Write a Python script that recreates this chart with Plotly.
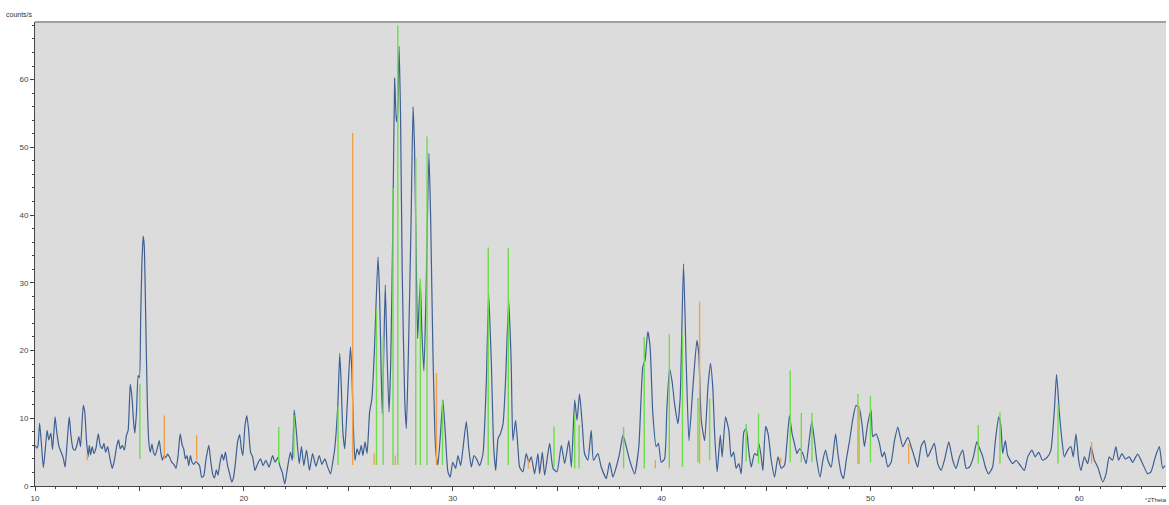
import plotly.graph_objects as go

# ---------------- data ----------------
two_theta = [
    10.00, 10.08, 10.14, 10.22, 10.30, 10.40, 10.48, 10.58, 10.66, 10.76, 10.84, 10.96, 11.04, 11.15, 11.25,
    11.35, 11.44, 11.54, 11.64, 11.72, 11.82, 11.92, 12.02, 12.10, 12.18, 12.31, 12.38, 12.46, 12.54, 12.60,
    12.66, 12.74, 12.82, 12.92, 13.03, 13.12, 13.22, 13.30, 13.38, 13.48, 13.58, 13.70, 13.80, 13.92, 14.00,
    14.08, 14.18, 14.28, 14.38, 14.46, 14.56, 14.64, 14.72, 14.78, 14.86, 14.94, 15.00, 15.06, 15.12, 15.18,
    15.23, 15.30, 15.38, 15.45, 15.52, 15.60, 15.67, 15.75, 15.85, 15.95, 16.02, 16.10, 16.18, 16.26, 16.35,
    16.45, 16.55, 16.65, 16.75, 16.85, 16.95, 17.05, 17.12, 17.20, 17.28, 17.36, 17.44, 17.52, 17.60, 17.70,
    17.78, 17.88, 17.98, 18.08, 18.18, 18.32, 18.42, 18.52, 18.60, 18.68, 18.76, 18.86, 18.95, 19.03, 19.12,
    19.22, 19.32, 19.42, 19.50, 19.60, 19.70, 19.80, 19.88, 19.95, 20.05, 20.14, 20.22, 20.32, 20.42, 20.53,
    20.66, 20.80, 20.92, 21.05, 21.21, 21.37, 21.50, 21.62, 21.72, 21.84, 21.96, 22.08, 22.23, 22.32, 22.41,
    22.50, 22.65, 22.76, 22.87, 23.00, 23.14, 23.29, 23.45, 23.61, 23.74, 23.88, 24.00, 24.15, 24.28, 24.35,
    24.42, 24.50, 24.59, 24.66, 24.74, 24.83, 24.95, 25.10, 25.17, 25.24, 25.32, 25.42, 25.52, 25.62, 25.70,
    25.80, 25.90, 26.02, 26.13, 26.25, 26.42, 26.50, 26.58, 26.63, 26.70, 26.77, 26.85, 26.95, 27.03, 27.14,
    27.22, 27.30, 27.36, 27.43, 27.50, 27.58, 27.70, 27.78, 27.88, 28.00, 28.10, 28.17, 28.26, 28.32, 28.38,
    28.45, 28.52, 28.62, 28.72, 28.86, 28.94, 29.05, 29.18, 29.29, 29.42, 29.53, 29.64, 29.77, 29.88, 30.00,
    30.14, 30.25, 30.38, 30.49, 30.65, 30.77, 30.89, 31.02, 31.14, 31.29, 31.45, 31.61, 31.72, 31.85, 31.96,
    32.06, 32.17, 32.28, 32.41, 32.53, 32.68, 32.80, 32.88, 33.01, 33.12, 33.20, 33.36, 33.52, 33.65, 33.76,
    33.92, 34.08, 34.16, 34.29, 34.40, 34.64, 34.80, 34.99, 35.20, 35.36, 35.56, 35.68, 35.84, 35.95, 36.07,
    36.20, 36.31, 36.47, 36.63, 36.74, 36.95, 37.11, 37.35, 37.51, 37.67, 37.83, 37.99, 38.15, 38.31, 38.47,
    38.71, 38.91, 39.10, 39.21, 39.34, 39.45, 39.58, 39.74, 39.85, 39.98, 40.14, 40.25, 40.38, 40.50, 40.62,
    40.78, 40.89, 41.05, 41.18, 41.31, 41.50, 41.69, 41.78, 41.90, 42.06, 42.22, 42.34, 42.45, 42.54, 42.66,
    42.81, 42.90, 43.06, 43.22, 43.33, 43.45, 43.57, 43.70, 43.81, 43.94, 44.05, 44.18, 44.29, 44.45, 44.58,
    44.66, 44.77, 44.85, 44.98, 45.10, 45.25, 45.41, 45.57, 45.73, 45.89, 46.00, 46.12, 46.25, 46.36, 46.48,
    46.60, 46.76, 46.92, 47.05, 47.19, 47.32, 47.43, 47.59, 47.72, 47.85, 47.96, 48.12, 48.33, 48.44, 48.60,
    48.71, 48.84, 49.00, 49.16, 49.31, 49.47, 49.60, 49.71, 49.87, 50.03, 50.11, 50.27, 50.43, 50.56, 50.67,
    50.83, 50.99, 51.15, 51.31, 51.55, 51.79, 51.95, 52.10, 52.26, 52.42, 52.58, 52.74, 52.90, 53.06, 53.22,
    53.38, 53.54, 53.75, 53.94, 54.10, 54.26, 54.42, 54.58, 54.74, 54.93, 55.09, 55.22, 55.38, 55.50, 55.66,
    55.85, 55.98, 56.14, 56.25, 56.33, 56.46, 56.57, 56.81, 56.97, 57.16, 57.37, 57.53, 57.73, 57.89, 58.05,
    58.24, 58.48, 58.64, 58.80, 58.91, 59.04, 59.17, 59.28, 59.44, 59.60, 59.71, 59.84, 59.97, 60.08, 60.24,
    60.40, 60.56, 60.72, 60.88, 61.12, 61.28, 61.43, 61.59, 61.75, 61.88, 62.04, 62.20, 62.39, 62.55, 62.79,
    63.03, 63.27, 63.43, 63.64, 63.83, 63.99, 64.10,
]
counts = [
    6.0, 5.6, 5.9, 9.3, 6.5, 2.7, 5.0, 8.2, 6.8, 7.8, 5.4, 10.2, 8.0, 5.8, 5.0,
    4.2, 2.8, 6.5, 10.2, 7.5, 5.5, 5.3, 6.2, 7.3, 5.8, 11.9, 11.0, 7.0, 4.3, 6.0,
    4.6, 5.8, 4.8, 5.6, 7.7, 6.0, 5.5, 6.3, 5.0, 5.8, 4.2, 2.6, 3.8, 6.0, 6.8,
    5.5, 6.0, 5.3, 7.5, 8.2, 15.0, 13.2, 9.5, 7.8, 11.0, 16.3, 16.0, 25.0, 33.0, 36.9,
    35.5, 25.0, 12.0, 6.5, 5.0, 6.2, 5.0, 4.5, 5.5, 6.7, 5.0, 3.8, 4.5, 4.2, 4.7,
    4.2, 3.5, 3.2, 2.6, 4.5, 7.7, 6.0, 5.5, 4.0, 4.5, 3.0, 4.5, 3.5, 3.2, 3.6,
    3.4, 3.0, 1.3, 1.5, 3.8, 6.0, 3.5, 1.6, 1.2, 2.4, 1.6, 3.5, 4.7, 3.8, 5.0,
    3.0, 1.8, 0.6, 1.2, 3.5, 6.5, 7.6, 5.5, 4.5, 8.8, 10.4, 8.5, 5.0, 4.3, 2.3,
    3.3, 4.0, 3.0, 3.8, 2.8, 4.5, 3.5, 4.2, 3.0, 2.0, 0.3, 2.5, 5.0, 3.8, 11.2,
    8.5, 3.3, 5.8, 3.0, 5.3, 2.3, 4.8, 2.9, 4.5, 3.2, 4.0, 2.9, 1.8, 4.0, 5.5,
    8.0, 12.0, 19.6, 15.0, 8.0, 5.5, 12.0, 20.5, 17.0, 9.0, 3.8, 5.5, 4.6, 6.0, 4.5,
    6.5, 4.8, 10.9, 12.9, 20.0, 33.8, 28.0, 16.0, 10.7, 20.0, 29.7, 20.0, 10.9, 18.0, 40.0,
    60.2, 53.8, 55.0, 64.9, 55.0, 32.0, 12.9, 8.5, 20.0, 38.0, 56.0, 50.0, 32.0, 21.8, 26.0,
    30.1, 23.0, 17.0, 28.0, 49.1, 40.0, 20.0, 5.5, 3.1, 8.0, 12.7, 8.0, 2.1, 1.3, 3.5,
    2.6, 4.5, 3.0, 5.5, 9.5, 5.5, 2.8, 4.5, 4.0, 3.0, 4.8, 15.6, 28.4, 18.0, 5.8,
    2.3, 7.0, 7.7, 9.2, 15.6, 27.4, 18.0, 6.7, 9.7, 5.8, 2.8, 2.1, 4.8, 3.5, 4.3,
    1.8, 4.8, 1.8, 5.0, 1.6, 6.3, 2.6, 2.1, 6.0, 3.3, 6.7, 2.8, 12.7, 9.7, 13.6,
    9.2, 4.8, 3.8, 8.2, 3.8, 4.8, 2.8, 1.1, 3.5, 1.3, 2.8, 4.8, 7.5, 5.8, 3.8,
    1.8, 5.8, 17.6, 18.6, 22.8, 20.5, 10.7, 5.8, 6.3, 3.5, 4.0, 11.2, 17.3, 15.5, 12.2,
    9.2, 13.0, 32.8, 18.0, 6.7, 14.6, 21.5, 19.5, 9.7, 6.7, 14.6, 18.1, 14.6, 7.7, 2.1,
    7.5, 4.3, 10.2, 8.2, 4.3, 5.0, 2.6, 3.3, 1.8, 8.0, 8.5, 5.0, 2.8, 4.8, 4.5,
    6.3, 4.3, 2.3, 8.8, 7.7, 3.8, 1.3, 4.3, 2.6, 3.1, 6.3, 10.4, 7.7, 6.3, 4.8,
    5.5, 4.8, 3.3, 6.3, 9.5, 6.7, 3.8, 1.3, 3.8, 5.3, 3.8, 2.8, 7.7, 4.8, 1.8,
    1.1, 3.8, 6.7, 10.0, 11.9, 11.4, 9.0, 5.8, 9.2, 11.2, 7.3, 7.7, 6.3, 4.3, 5.0,
    2.8, 3.5, 6.7, 8.7, 5.8, 7.2, 5.8, 4.3, 2.8, 5.8, 6.7, 4.3, 5.3, 6.3, 3.3,
    2.3, 3.8, 6.5, 3.8, 2.6, 4.3, 5.3, 2.6, 2.8, 4.3, 6.5, 5.6, 4.3, 2.8, 1.8,
    2.8, 6.7, 10.2, 8.7, 4.8, 6.7, 4.5, 3.3, 3.8, 3.1, 2.3, 4.3, 5.3, 4.3, 5.0,
    3.8, 4.3, 5.3, 11.0, 16.5, 11.0, 6.7, 4.3, 5.3, 5.8, 4.3, 7.7, 3.8, 2.3, 4.3,
    3.3, 5.8, 3.8, 2.8, 0.6, 1.8, 4.3, 3.8, 5.8, 3.8, 4.8, 4.0, 4.3, 3.5, 4.7,
    3.3, 1.8, 2.1, 4.3, 5.8, 2.6, 3.0,
]

green_pos = [15.02, 21.67, 22.40, 24.51, 26.35, 26.67, 27.14, 27.37, 28.23, 28.45, 28.77, 29.51,
             31.70, 32.66, 34.85, 35.84, 36.05, 38.18, 39.17, 40.37, 41.00, 41.74, 42.30, 44.05,
             44.64, 46.16, 46.69, 47.20, 49.40, 50.00, 55.16, 56.20, 58.98]
green_top = [15.1, 8.7, 10.5, 11.7, 26.0, 22.0, 44.0, 68.0, 48.4, 30.6, 51.6, 12.5,
             35.2, 35.1, 8.8, 10.7, 9.0, 8.7, 22.0, 22.4, 22.6, 13.0, 12.9, 9.2,
             10.7, 17.1, 10.8, 10.8, 13.6, 13.3, 9.0, 10.9, 12.0]
green_base = [4.0, 3.4, 4.1, 3.1, 3.1, 3.1, 3.1, 3.1, 3.1, 3.1, 3.1, 3.1,
              3.1, 3.1, 2.8, 2.6, 2.6, 2.6, 2.6, 2.6, 2.8, 3.5, 3.8, 3.6,
              3.3, 3.5, 3.5, 3.5, 3.3, 3.5, 3.3, 3.3, 3.3]

orange_pos = [12.50, 16.19, 17.74, 25.21, 26.24, 27.25, 29.22, 33.62, 39.70, 41.82, 45.70, 49.46, 51.83, 60.59]
orange_top = [4.8, 10.4, 7.5, 52.1, 4.8, 4.5, 16.7, 3.8, 3.8, 27.2, 4.2, 11.8, 6.3, 6.5]
orange_base = [3.8, 4.0, 3.8, 3.1, 3.1, 3.1, 3.1, 2.6, 2.6, 3.3, 3.5, 3.3, 3.3, 3.3]

x_tickvals = [10, 15, 20, 25, 30, 35, 40, 45, 50, 55, 60]
x_ticktext = ["10", "", "20", "", "30", "", "40", "", "50", "", "60"]
y_tickvals = [0, 10, 20, 30, 40, 50, 60]


def sticks(pos, base, top):
    xs, ys = [], []
    for p, b, t in zip(pos, base, top):
        xs += [p, p, None]
        ys += [b, t, None]
    return xs, ys


fig = go.Figure()
fig.add_trace(go.Scatter(x=two_theta, y=counts, mode="lines",
                         line=dict(color="#3e5f94", width=1.2, shape="spline", smoothing=0.5),
                         hoverinfo="skip"))
gx, gy = sticks(green_pos, green_base, green_top)
fig.add_trace(go.Scatter(x=gx, y=gy, mode="lines", line=dict(color="#6fdc4c", width=1.4),
                         hoverinfo="skip"))
ox, oy = sticks(orange_pos, orange_base, orange_top)
fig.add_trace(go.Scatter(x=ox, y=oy, mode="lines", line=dict(color="#f0a24a", width=1.4),
                         hoverinfo="skip"))

fig.update_layout(
    width=1169, height=505,
    margin=dict(l=35, r=3, t=22, b=19),
    paper_bgcolor="white", plot_bgcolor="#dcdcdc",
    showlegend=False,
    font=dict(family="Liberation Sans, Arial, sans-serif", size=8, color="#333"),
    xaxis=dict(range=[10, 64.15], tickvals=x_tickvals, ticktext=x_ticktext,
               ticks="outside", ticklen=4, tickcolor="#444", tickwidth=1,
               minor=dict(dtick=1, ticks="outside", ticklen=2, tickcolor="#444"),
               showgrid=False, zeroline=False, showline=True, linecolor="#444", linewidth=1,
               tickfont=dict(size=8, color="#444")),
    yaxis=dict(range=[0, 68.5], tickvals=y_tickvals,
               ticks="outside", ticklen=4, tickcolor="#444", tickwidth=1,
               minor=dict(dtick=2, ticks="outside", ticklen=2, tickcolor="#444"),
               showgrid=False, zeroline=False, showline=True, linecolor="#444", linewidth=1,
               tickfont=dict(size=8, color="#444")),
    shapes=[dict(type="line", xref="paper", yref="paper", x0=0, x1=1, y0=1, y1=1,
                 line=dict(color="#a0a0a0", width=2))],
    annotations=[
        dict(text="counts/s", xref="paper", yref="paper", x=0, y=1, xanchor="right",
             yanchor="bottom", yshift=2, showarrow=False, font=dict(size=7, color="#333")),
        dict(text="°2Theta", xref="paper", yref="paper", x=1, y=0, xanchor="right",
             yanchor="top", yshift=-9, xshift=3, showarrow=False, font=dict(size=6, color="#333")),
    ],
)

fig.write_html("out.html")
